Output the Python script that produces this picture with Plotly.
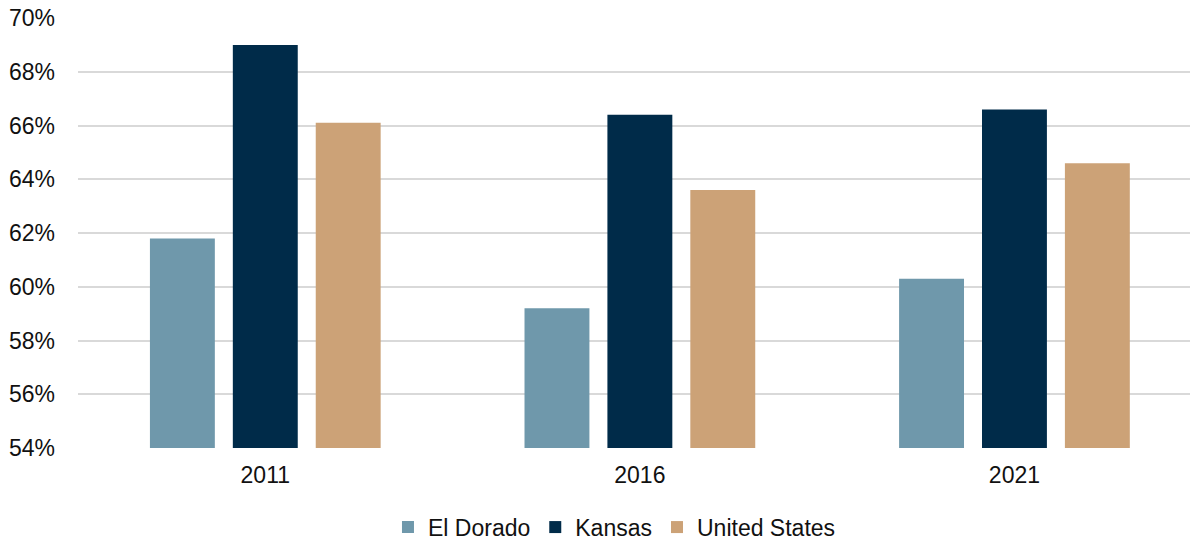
import plotly.graph_objects as go

years = ["2011", "2016", "2021"]
el_dorado = [61.8, 59.2, 60.3]
kansas = [69.0, 66.4, 66.6]
united_states = [66.1, 63.6, 64.6]
y_ticks = [54, 56, 58, 60, 62, 64, 66, 68, 70]
y_tick_labels = [f"{v}%" for v in y_ticks]

series = [
    ("El Dorado", el_dorado, "#6F98AB"),
    ("Kansas", kansas, "#002B49"),
    ("United States", united_states, "#CCA277"),
]

fig = go.Figure()
for name, vals, color in series:
    fig.add_trace(go.Bar(
        name=name, x=years, y=vals,
        marker=dict(color=color, line=dict(width=0)),
    ))

fig.update_layout(
    width=1190, height=533,
    margin=dict(l=70, r=0, t=10, b=93, autoexpand=False),
    paper_bgcolor="white", plot_bgcolor="white",
    barmode="group", bargap=0.336, bargroupgap=0.217,
    font=dict(family="Liberation Sans, Arial, sans-serif", size=23, color="#111111"),
    showlegend=True,
    legend=dict(orientation="h", x=0.479, xanchor="center", y=-0.184, yanchor="middle",
                font=dict(size=23), itemwidth=30, traceorder="normal"),
)
fig.update_yaxes(
    range=[54, 70], tickvals=y_ticks, ticktext=y_tick_labels,
    showgrid=True, gridcolor="#D9D9D9", gridwidth=1.5, automargin=False,
    zeroline=False, showline=False, ticks="", ticklabelstandoff=22,
    ticklabeloverflow="allow",
)
fig.update_xaxes(range=[-0.5, 2.49], showline=False, ticks="", ticklabelstandoff=11,
                 automargin=False)

fig.write_html("out.html")
